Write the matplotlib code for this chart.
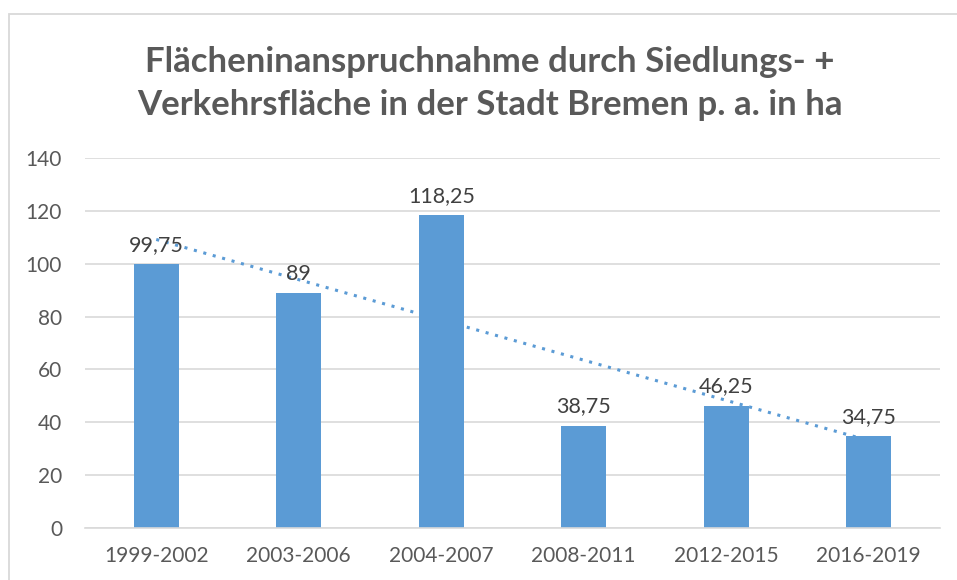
import numpy as np
import matplotlib.pyplot as plt
from matplotlib.patches import Rectangle

periods = ["1999-2002", "2003-2006", "2004-2007", "2008-2011", "2012-2015", "2016-2019"]
values = [99.75, 89, 118.25, 38.75, 46.25, 34.75]
labels = ["99,75", "89", "118,25", "38,75", "46,25", "34,75"]

plt.rcParams['font.family'] = ['Lato', 'DejaVu Sans']

fig = plt.figure(figsize=(9.57, 5.80), dpi=100)
ax = fig.add_axes([85 / 957, 1 - 528 / 580, (940 - 85) / 957, (528 - 158) / 580])

# chart area border (only top/left visible in reference)
fig.patches.append(Rectangle((9 / 957, -0.1), 1.2, 1 - 14 / 580 + 0.1, transform=fig.transFigure,
                             fill=False, edgecolor='#d9d9d9', linewidth=1.3))

x = np.arange(len(periods))
ax.bar(x, values, width=0.316, color='#5b9bd5', zorder=2)

# linear trendline
k, d = np.polyfit(x, values, 1)
ax.plot(x, k * x + d, linestyle=(0, (1, 2.2)), color='#5b9bd5', linewidth=2.2, zorder=3)

for xi, v, lab in zip(x, values, labels):
    ax.text(xi, v + 3.5, lab, ha='center', va='bottom', fontsize=15.5, color='#404040', zorder=4)

ax.set_xlim(-0.5, len(periods) - 0.5)
ax.set_ylim(0, 140)
ax.set_yticks(range(0, 141, 20))
ax.set_xticks(x)
ax.set_xticklabels(periods)
ax.grid(axis='y', color='#d9d9d9', linewidth=1.2, zorder=0)
ax.set_axisbelow(True)
for s in ['top', 'right', 'left']:
    ax.spines[s].set_visible(False)
ax.spines['bottom'].set_color('#d9d9d9')
ax.spines['bottom'].set_linewidth(1.2)
ax.tick_params(length=0, labelsize=15, labelcolor='#595959')
ax.tick_params(axis='x', pad=13)
ax.tick_params(axis='y', pad=16.5)

fig.text(490 / 957, 1 - 62 / 580, "Flächeninanspruchnahme durch Siedlungs- +", ha='center', va='center',
         fontsize=25, fontweight='bold', color='#595959')
fig.text(490 / 957, 1 - 105 / 580, "Verkehrsfläche in der Stadt Bremen p. a. in ha", ha='center', va='center',
         fontsize=25, fontweight='bold', color='#595959')

fig.savefig("out.png", dpi=100)
